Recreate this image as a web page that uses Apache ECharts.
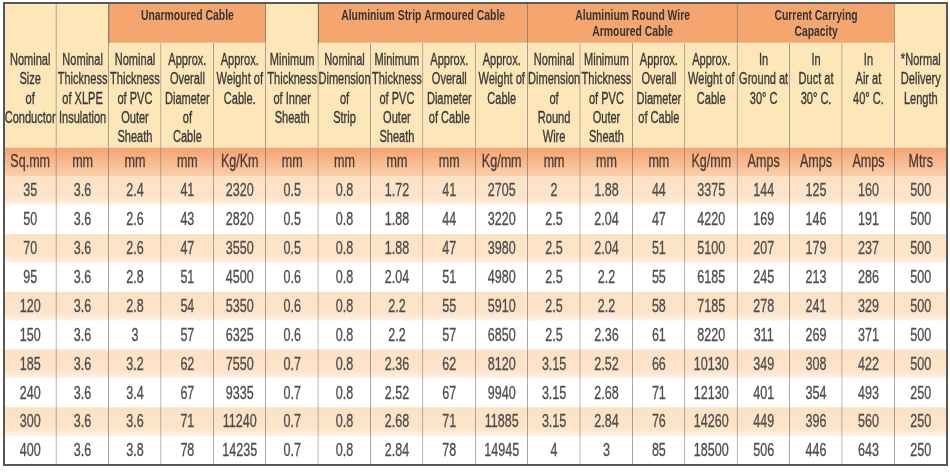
<!DOCTYPE html>
<html lang="en">
<head>
<meta charset="UTF-8">
<title>XLPE Aluminium Cable Table</title>
<script src="https://cdn.jsdelivr.net/npm/echarts@6/dist/echarts.min.js"></script>
<style>
  html, body { margin: 0; padding: 0; background: #fff; }
  #container { width: 950px; height: 473px; }
</style>
</head>
<body>
<div id="container"></div>
<script>
// table values
var sizes   = [35, 50, 70, 95, 120, 150, 185, 240, 300, 400];
var xlpe    = [3.6, 3.6, 3.6, 3.6, 3.6, 3.6, 3.6, 3.6, 3.6, 3.6];
var pvcU    = [2.4, 2.6, 2.6, 2.8, 2.8, 3, 3.2, 3.4, 3.6, 3.8];
var diaU    = [41, 43, 47, 51, 54, 57, 62, 67, 71, 78];
var wtU     = [2320, 2820, 3550, 4500, 5350, 6325, 7550, 9335, 11240, 14235];
var inner   = [0.5, 0.5, 0.5, 0.6, 0.6, 0.6, 0.7, 0.7, 0.7, 0.7];
var strip   = [0.8, 0.8, 0.8, 0.8, 0.8, 0.8, 0.8, 0.8, 0.8, 0.8];
var pvcS    = [1.72, 1.88, 1.88, 2.04, 2.2, 2.2, 2.36, 2.52, 2.68, 2.84];
var diaS    = [41, 44, 47, 51, 55, 57, 62, 67, 71, 78];
var wtS     = [2705, 3220, 3980, 4980, 5910, 6850, 8120, 9940, 11885, 14945];
var wire    = [2, 2.5, 2.5, 2.5, 2.5, 2.5, 3.15, 3.15, 3.15, 4];
var pvcW    = [1.88, 2.04, 2.04, 2.2, 2.2, 2.36, 2.52, 2.68, 2.84, 3];
var diaW    = [44, 47, 51, 55, 58, 61, 66, 71, 76, 85];
var wtW     = [3375, 4220, 5100, 6185, 7185, 8220, 10130, 12130, 14260, 18500];
var ground  = [144, 169, 207, 245, 278, 311, 349, 401, 449, 506];
var duct    = [125, 146, 179, 213, 241, 269, 308, 354, 396, 446];
var air     = [160, 191, 237, 286, 329, 371, 422, 493, 560, 643];
var lengths = [500, 500, 500, 500, 500, 500, 500, 250, 250, 250];

var units = ['Sq.mm', 'mm', 'mm', 'mm', 'Kg/Km', 'mm', 'mm', 'mm', 'mm', 'Kg/mm',
             'mm', 'mm', 'mm', 'Kg/mm', 'Amps', 'Amps', 'Amps', 'Mtrs'];

var colHeads = [
  'Nominal\nSize\nof\nConductor', 'Nominal\nThickness\nof XLPE\nInsulation',
  'Nominal\nThickness\nof PVC\nOuter\nSheath', 'Approx.\nOverall\nDiameter\nof\nCable',
  'Approx.\nWeight of\nCable.', 'Minimum\nThickness\nof Inner\nSheath',
  'Nominal\nDimension\nof\nStrip', 'Minimum\nThickness\nof PVC\nOuter\nSheath',
  'Approx.\nOverall\nDiameter\nof Cable', 'Approx.\nWeight of\nCable',
  'Nominal\nDimension\nof\nRound\nWire', 'Minimum\nThickness\nof PVC\nOuter\nSheath',
  'Approx.\nOverall\nDiameter\nof Cable', 'Approx.\nWeight of\nCable',
  'In\nGround at\n30° C', 'In\nDuct at\n30° C.', 'In\nAir at\n40° C.',
  '*Normal\nDelivery\nLength'
];

var groupTitles = ['Unarmoured Cable', 'Aluminium Strip Armoured Cable',
                   'Aluminium Round Wire\nArmoured Cable', 'Current Carrying\nCapacity'];
var groupStart = [2, 6, 10, 14];
var groupSpan  = [3, 4, 4, 3];

var columns = [sizes, xlpe, pvcU, diaU, wtU, inner, strip, pvcS, diaS, wtS,
               wire, pvcW, diaW, wtW, ground, duct, air, lengths];

// row bands (in table row units)
var BAND_H = 1.4, HEAD_H = 5, UNIT_H = 1;
var nCols = columns.length, nRows = sizes.length;

// build cells: [col, colSpan, row, rowSpan]
var cells = [];
function inGroup(c) {
  for (var g = 0; g < groupStart.length; g++) {
    if (c >= groupStart[g] && c < groupStart[g] + groupSpan[g]) return true;
  }
  return false;
}
for (var g = 0; g < groupTitles.length; g++) {
  cells.push({ value: [groupStart[g], groupSpan[g], 0, BAND_H], text: groupTitles[g], kind: 'group' });
}
for (var c = 0; c < nCols; c++) {
  if (inGroup(c)) {
    cells.push({ value: [c, 1, BAND_H, HEAD_H - BAND_H], text: colHeads[c], kind: 'sub' });
  } else {
    cells.push({ value: [c, 1, 0, HEAD_H], text: colHeads[c], kind: 'sub' });
  }
  cells.push({ value: [c, 1, HEAD_H, UNIT_H], text: units[c], kind: 'unit' });
  for (var r = 0; r < nRows; r++) {
    cells.push({ value: [c, 1, HEAD_H + UNIT_H + r, 1], text: String(columns[c][r]),
                 kind: r % 2 === 0 ? 'odd' : 'even' });
  }
}
cells.push({ value: [0, nCols, 0, HEAD_H + UNIT_H + nRows], text: '', kind: 'frame' });

var FONT = '"Liberation Sans", Arial, sans-serif';

function renderCell(params, api) {
  var cell = cells[params.dataIndex];
  var c0 = api.value(0), cs = api.value(1), r0 = api.value(2), rs = api.value(3);
  var p1 = api.coord([c0, r0]);
  var p2 = api.coord([c0 + cs, r0 + rs]);
  var x = p1[0], y = p1[1], w = p2[0] - p1[0], h = p2[1] - p1[1];
  var kids = [];

  if (cell.kind === 'frame') {
    return { type: 'rect', shape: { x: x, y: y, width: w, height: h },
             style: { fill: null, stroke: '#575757', lineWidth: 2 } };
  }

  var fill;
  if (cell.kind === 'group') fill = '#f5a66e';
  else if (cell.kind === 'sub') fill = '#fde7b8';
  else if (cell.kind === 'unit') fill = new echarts.graphic.LinearGradient(0, 0, 0, 1, [
    { offset: 0, color: '#f5a470' }, { offset: 1, color: '#fbcfac' }]);
  else if (cell.kind === 'odd') fill = new echarts.graphic.LinearGradient(0, 0, 0, 1, [
    { offset: 0, color: '#fde1c4' }, { offset: 0.75, color: '#fde5ca' }, { offset: 1, color: '#fff3e8' }]);
  else fill = '#ffffff';

  kids.push({ type: 'rect', shape: { x: x, y: y, width: w, height: h }, style: { fill: fill } });

  // light separator under header cells
  if (cell.kind === 'group' || cell.kind === 'sub') {
    kids.push({ type: 'line', shape: { x1: x, y1: y + h, x2: x + w, y2: y + h },
                style: { stroke: '#fff6ea', lineWidth: 1.5 } });
  }
  // dark vertical separator
  kids.push({ type: 'line', shape: { x1: x + w, y1: y, x2: x + w, y2: y + h },
              style: { stroke: '#5e5e5e', lineWidth: 1 } });

  var tx = x + w / 2, ty, size, weight = 'normal', va = 'middle', lh, color, squeeze;
  if (cell.kind === 'group') {
    ty = api.coord([0, 0.17])[1]; size = 15.5; weight = 'bold'; va = 'top'; lh = 16;
    color = '#353535'; squeeze = 0.67;
  } else if (cell.kind === 'sub') {
    ty = api.coord([0, 1.67])[1]; size = 16; va = 'top'; lh = 19.2;
    color = '#383838'; squeeze = 0.69;
  } else if (cell.kind === 'unit') {
    ty = y + h / 2; size = 19; lh = 20; color = '#4a3c34'; squeeze = 0.66;
  } else {
    ty = y + h / 2 + 0.5; size = 19; lh = 20; color = '#4e4e4e'; squeeze = 0.66;
  }
  kids.push({
    type: 'text', x: tx, y: ty, scaleX: squeeze,
    style: { text: cell.text, x: 0, y: 0, align: 'center', verticalAlign: va,
             font: weight + ' ' + size + 'px ' + FONT, lineHeight: lh, fill: color,
             stroke: weight === 'bold' ? null : color, lineWidth: 0.35 }
  });
  return { type: 'group', children: kids };
}

var dom = document.getElementById('container');
var myChart = echarts.init(dom, null, { renderer: 'canvas' });

var option = {
  animation: false,
  grid: { left: 4, right: 3, top: 3, bottom: 8 },
  xAxis: { type: 'value', min: 0, max: nCols, show: false },
  yAxis: { type: 'value', min: 0, max: HEAD_H + UNIT_H + nRows, inverse: true, show: false },
  series: [{
    type: 'custom',
    renderItem: renderCell,
    encode: { x: 0, y: 2 },
    data: cells,
    silent: true
  }]
};

myChart.setOption(option);
window.addEventListener('resize', myChart.resize);
</script>
</body>
</html>
